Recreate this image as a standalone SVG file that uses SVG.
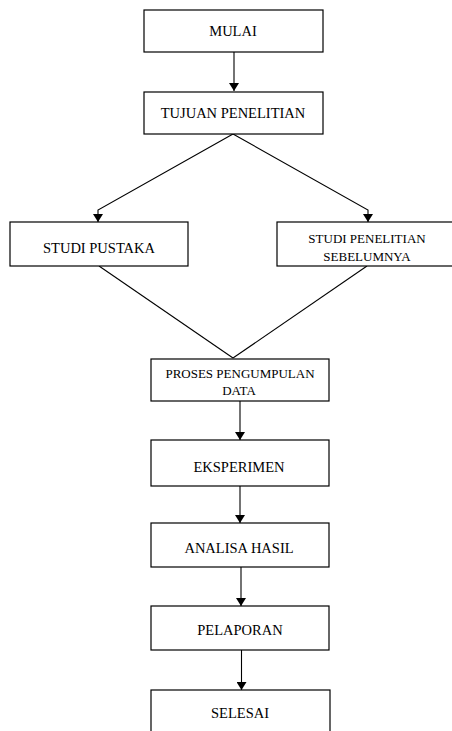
<svg xmlns="http://www.w3.org/2000/svg" width="452" height="731" viewBox="0 0 452 731">
<style>
.box{fill:#fff;stroke:#000;stroke-width:1.2}
.t{font-family:"Liberation Serif","Times New Roman",serif;font-size:14.5px;fill:#000;text-anchor:middle}
.s{font-size:13px}
.c{fill:none;stroke:#000;stroke-width:1.1}
</style>
<defs>
<marker id="ah" viewBox="0 0 8 10" refX="8" refY="5" markerWidth="8" markerHeight="10" markerUnits="userSpaceOnUse" orient="auto">
<path d="M0,0 L8,5 L0,10 z" fill="#000"/>
</marker>
</defs>
<rect width="452" height="731" fill="#fff"/>
<g id="connectors">
<line class="c" x1="234" y1="52" x2="234" y2="91" marker-end="url(#ah)"/>
<polyline class="c" points="233,134 98,210 98,222" marker-end="url(#ah)"/>
<polyline class="c" points="233,134 368,210 368,222" marker-end="url(#ah)"/>
<line class="c" x1="99" y1="266" x2="233" y2="358"/>
<line class="c" x1="367" y1="266" x2="233" y2="358"/>
<line class="c" x1="240" y1="401" x2="240" y2="440" marker-end="url(#ah)"/>
<line class="c" x1="240" y1="486" x2="240" y2="523" marker-end="url(#ah)"/>
<line class="c" x1="241" y1="567" x2="241" y2="606" marker-end="url(#ah)"/>
<line class="c" x1="241.5" y1="650" x2="241.5" y2="690" marker-end="url(#ah)"/>
</g>
<g id="mulai"><rect class="box" x="144" y="10" width="179" height="42"/><text class="t" x="233" y="35.5">MULAI</text></g>
<g id="tujuan"><rect class="box" x="144" y="92" width="179" height="42"/><text class="t" x="233" y="118">TUJUAN PENELITIAN</text></g>
<g id="studi-pustaka"><rect class="box" x="10" y="222" width="178" height="44"/><text class="t" x="99" y="253">STUDI PUSTAKA</text></g>
<g id="studi-penelitian"><rect class="box" x="277" y="222" width="180" height="44"/><text class="t s" x="367" y="242.5">STUDI PENELITIAN</text><text class="t s" x="367" y="261">SEBELUMNYA</text></g>
<g id="proses"><rect class="box" x="151" y="359" width="178" height="42"/><text class="t s" x="240" y="378">PROSES PENGUMPULAN</text><text class="t s" x="239" y="395">DATA</text></g>
<g id="eksperimen"><rect class="box" x="151" y="440" width="178" height="46"/><text class="t" x="239" y="471.5">EKSPERIMEN</text></g>
<g id="analisa"><rect class="box" x="151" y="523" width="178" height="44"/><text class="t" x="239" y="553">ANALISA HASIL</text></g>
<g id="pelaporan"><rect class="box" x="151" y="606" width="178" height="44"/><text class="t" x="240" y="635">PELAPORAN</text></g>
<g id="selesai"><rect class="box" x="151" y="690" width="179" height="50"/><text class="t" x="240" y="718">SELESAI</text></g>
</svg>
